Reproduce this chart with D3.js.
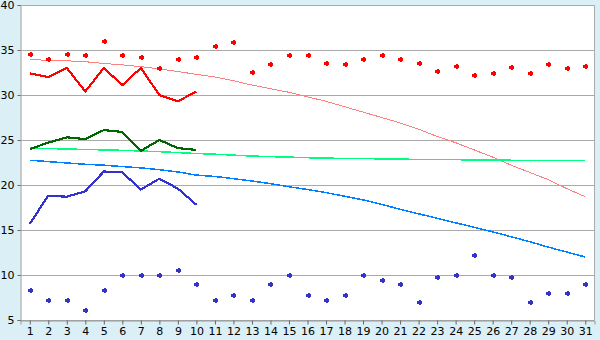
<!DOCTYPE html>
<html lang="en">
<head>
    <meta charset="utf-8">
    <title>Daily temperatures</title>
    <style>
        body {
            margin: 0;
            padding: 0;
            background: #daeff6;
        }
        #chart text {
            font-family: "DejaVu Sans", Verdana, sans-serif;
            font-size: 11px;
            fill: #000;
        }
    </style>
</head>
<body>
<div id="chart"></div>
<script src="https://d3js.org/d3.v7.min.js"></script>
<script>
  // days of the month
  const days = d3.range(1, 32);
  const yTicks = [5, 10, 15, 20, 25, 30, 35, 40];

  // record highs / lows (markers)
  const recordMax = [34.6, 34.0, 34.6, 34.4, 36.0, 34.4, 34.2, 33.0, 34.0, 34.2,
    35.4, 35.9, 32.6, 33.4, 34.5, 34.4, 33.6, 33.5, 34.0, 34.4,
    34.0, 33.6, 32.7, 33.2, 32.2, 32.4, 33.1, 32.5, 33.4, 33.0, 33.2];
  const recordMin = [8.3, 7.2, 7.2, 6.1, 8.3, 10.0, 10.0, 10.0, 10.6, 9.0,
    7.2, 7.8, 7.2, 9.0, 10.0, 7.8, 7.2, 7.8, 10.0, 9.4,
    9.0, 7.0, 9.8, 10.0, 12.2, 10.0, 9.8, 7.0, 8.0, 8.0, 9.0];

  // observed this month (days 1-10)
  const obsMax = [32.4, 32.0, 33.0, 30.4, 33.0, 31.1, 33.0, 30.0, 29.3, 30.4];
  const obsMean = [24.0, 24.7, 25.3, 25.1, 26.1, 25.9, 23.8, 25.0, 24.1, 23.9];
  const obsMin = [15.7, 18.8, 18.7, 19.3, 21.5, 21.4, 19.5, 20.7, 19.6, 17.8];

  // normals
  const normMax = [33.9, 33.88, 33.8, 33.7, 33.5, 33.35, 33.15, 32.9, 32.6, 32.3,
    32.0, 31.6, 31.1, 30.7, 30.3, 29.8, 29.3, 28.7, 28.1, 27.5,
    26.9, 26.2, 25.4, 24.7, 23.9, 23.1, 22.2, 21.4, 20.6, 19.6, 18.7];
  const normMean = [24.1, 24.05, 24.0, 23.95, 23.9, 23.85, 23.78, 23.7, 23.6, 23.5,
    23.42, 23.32, 23.22, 23.15, 23.1, 23.03, 22.98, 22.96, 22.94, 22.9,
    22.87, 22.85, 22.83, 22.81, 22.79, 22.77, 22.75, 22.74, 22.73, 22.72, 22.7];
  const normMin = [22.75, 22.6, 22.45, 22.3, 22.2, 22.05, 21.9, 21.7, 21.45, 21.1,
    20.95, 20.7, 20.45, 20.15, 19.8, 19.5, 19.15, 18.75, 18.35, 17.85,
    17.3, 16.8, 16.3, 15.8, 15.3, 14.8, 14.25, 13.7, 13.1, 12.55, 12.0];

  const width = 600, height = 340;
  const plotLeft = 20.5, plotRight = 594.5, plotTop = 5, plotBottom = 320;

  const svg = d3.select("#chart").append("svg")
    .attr("width", width)
    .attr("height", height);

  const x = d3.scaleLinear().domain([0.5, 31.5]).range([plotLeft, plotRight]);
  const y = d3.scaleLinear().domain([5, 40]).range([plotBottom, plotTop]);

  // plot background
  svg.append("rect")
    .attr("x", plotLeft).attr("y", plotTop)
    .attr("width", plotRight - plotLeft).attr("height", plotBottom - plotTop)
    .attr("fill", "#fff");

  // gridlines
  svg.append("g")
    .selectAll("line")
    .data(yTicks)
    .join("line")
    .attr("x1", plotLeft).attr("x2", plotRight)
    .attr("y1", d => Math.round(y(d)) + 0.5).attr("y2", d => Math.round(y(d)) + 0.5)
    .attr("stroke", "#aaa");

  // right border
  svg.append("line")
    .attr("x1", plotRight).attr("x2", plotRight)
    .attr("y1", plotTop).attr("y2", plotBottom)
    .attr("stroke", "#aaa");

  // y axis
  const yAxis = svg.append("g")
    .attr("transform", `translate(${plotLeft},0)`)
    .call(d3.axisLeft(y).tickValues(yTicks).tickSize(3).tickPadding(3).tickFormat(d3.format("d")));
  yAxis.select(".domain").attr("stroke", "#999");
  yAxis.selectAll(".tick line").attr("stroke", "#666");

  // x axis
  const xAxis = svg.append("g")
    .attr("transform", `translate(0,${plotBottom + 0.5})`)
    .call(d3.axisBottom(x).tickValues(days).tickSize(4).tickPadding(3).tickFormat(d3.format("d")));
  xAxis.select(".domain").attr("stroke", "#999");
  xAxis.selectAll(".tick line").attr("stroke", "#666");

  // lines
  const line = d3.line().x((d, i) => x(i + 1)).y(d => y(d));

  const series = [
    { data: normMax, color: "#ff7f7f", w: 1 },
    { data: normMean, color: "#00ff80", w: 1.5 },
    { data: normMin, color: "#0080ff", w: 1.5 },
    { data: obsMax, color: "#ff0000", w: 2.2 },
    { data: obsMean, color: "#006600", w: 2.2 },
    { data: obsMin, color: "#3333cc", w: 2.2 }
  ];

  svg.append("g")
    .attr("shape-rendering", "crispEdges")
    .selectAll("path")
    .data(series)
    .join("path")
    .attr("d", d => line(d.data))
    .attr("fill", "none")
    .attr("stroke", d => d.color)
    .attr("stroke-width", d => d.w);

  // record markers: small plus-shaped blobs
  const marker = "M-1,-2.5h2v1h1.5v3h-1.5v1h-2v-1h-1.5v-3h1.5z";

  function drawMarkers(data, color) {
    svg.append("g")
      .attr("shape-rendering", "crispEdges")
      .selectAll("path")
      .data(data)
      .join("path")
      .attr("transform", (d, i) => `translate(${Math.round(x(i + 1)) + 0.5},${Math.round(y(d)) + 0.5})`)
      .attr("d", marker)
      .attr("fill", color);
  }
  drawMarkers(recordMax, "#ff0000");
  drawMarkers(recordMin, "#3333cc");
</script>
</body>
</html>
